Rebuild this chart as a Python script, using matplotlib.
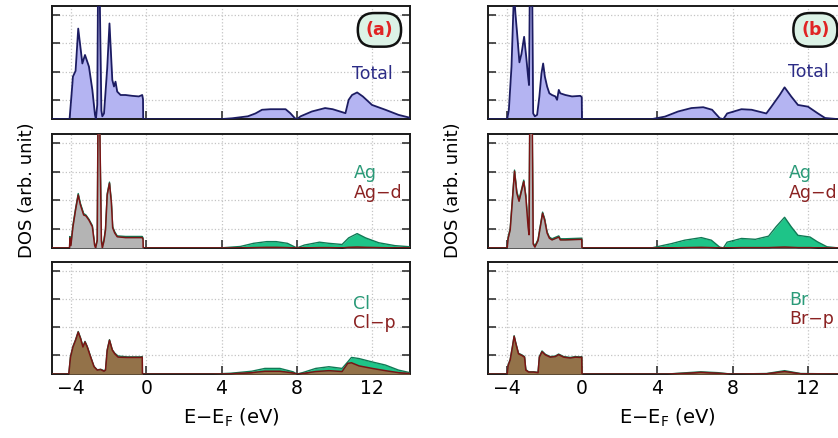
import matplotlib.pyplot as plt

# ---------------------------------------------------------
# Data (DOS in tick-spacing units, 0 = axis bottom)
# ---------------------------------------------------------

# (a) Total DOS
tot_a_x = [-5.0, -4.07, -3.96, -3.89, -3.75, -3.61, -3.39, -3.25, -3.04, -2.86, -2.72, -2.67,
           -2.60, -2.56, -2.47, -2.38, -2.33, -2.24, -2.07, -1.95, -1.80, -1.71, -1.63, -1.54,
           -1.36, -1.10, -0.74, -0.39, -0.21, -0.17, -0.16,
           3.94, 4.56, 5.4, 5.8, 6.15, 6.6, 7.4, 7.65, 7.9, 8.0,
           8.2, 8.8, 9.5, 9.9, 10.58, 10.75, 10.93, 11.2, 11.5, 11.99, 12.7, 13.4, 14.0]
tot_a_y = [0.0, 0.0, 0.9, 1.5, 1.7, 3.19, 1.96, 2.26, 1.85, 1.03, 0.15, 0.0,
           0.5, 4.5, 4.5, 0.3, 0.1, 0.2, 1.8, 3.37, 1.38, 1.15, 1.32, 0.97,
           0.85, 0.85, 0.82, 0.8, 0.85, 0.7, 0.0,
           0.0, 0.03, 0.1, 0.2, 0.33, 0.35, 0.35, 0.21, 0.03, 0.0,
           0.1, 0.27, 0.39, 0.35, 0.21, 0.68, 0.85, 0.94, 0.8, 0.5, 0.33, 0.15, 0.05]

# (a) Ag total and Ag-d
ag_a_x = [-5.0, -4.07, -4.05, -4.0, -3.89, -3.75, -3.61, -3.50, -3.32, -3.20, -3.04, -2.86, -2.74, -2.69,
          -2.60, -2.56, -2.47, -2.38, -2.33, -2.24, -2.16, -2.07, -1.95, -1.85, -1.78, -1.67, -1.54,
          -1.10, -0.21, -0.17, -0.16,
          3.94, 5.0, 5.7, 6.4, 6.9, 7.5, 7.9, 8.0,
          8.4, 9.2, 9.7, 10.4, 10.75, 11.2, 11.65, 12.35, 13.2, 14.0]
ag_a_y = [0.0, 0.0, 0.4, 0.1, 0.80, 1.38, 1.90, 1.57, 1.20, 1.15, 1.00, 0.78, 0.12, 0.0,
          0.3, 4.5, 4.5, 0.3, 0.02, 0.3, 0.68, 1.90, 2.30, 1.62, 0.74, 0.56, 0.42,
          0.40, 0.40, 0.35, 0.0,
          0.0, 0.05, 0.16, 0.22, 0.22, 0.16, 0.03, 0.0,
          0.1, 0.2, 0.16, 0.12, 0.35, 0.50, 0.35, 0.18, 0.08, 0.04]
agd_a_y = [0.0, 0.0, 0.35, 0.08, 0.74, 1.33, 1.85, 1.52, 1.15, 1.12, 0.97, 0.74, 0.10, 0.0,
           0.25, 4.5, 4.5, 0.25, 0.0, 0.25, 0.63, 1.85, 2.26, 1.58, 0.70, 0.52, 0.39,
           0.36, 0.36, 0.30, 0.0,
           0.0, 0.0, 0.01, 0.02, 0.02, 0.01, 0.0, 0.0,
           0.0, 0.01, 0.01, 0.0, 0.02, 0.03, 0.02, 0.01, 0.0, 0.0]

# (a) Cl total and Cl-p
cl_a_x = [-5.0, -4.11, -4.02, -3.89, -3.75, -3.61, -3.48, -3.36, -3.25, -3.13, -2.95, -2.77,
          -2.60, -2.42, -2.24, -2.16, -2.07, -1.95, -1.80, -1.67, -1.49, -1.0, -0.6, -0.30, -0.21, -0.20,
          3.5, 4.5, 5.6, 6.3, 7.1, 7.8, 8.0,
          8.3, 9.0, 9.7, 10.4, 10.7, 10.9, 11.3, 12.0, 12.7, 13.4, 14.0]
cl_a_y = [0.0, 0.0, 0.62, 0.98, 1.22, 1.51, 1.27, 0.98, 1.16, 0.98, 0.62, 0.27,
          0.15, 0.17, 0.12, 0.15, 0.86, 1.22, 0.86, 0.74, 0.64, 0.61, 0.61, 0.61, 0.62, 0.0,
          0.0, 0.03, 0.10, 0.20, 0.20, 0.08, 0.0,
          0.05, 0.2, 0.26, 0.20, 0.43, 0.59, 0.55, 0.43, 0.32, 0.14, 0.05]
clp_a_y = [0.0, 0.0, 0.60, 0.96, 1.20, 1.49, 1.25, 0.96, 1.14, 0.96, 0.60, 0.26,
           0.14, 0.16, 0.10, 0.14, 0.84, 1.20, 0.85, 0.72, 0.60, 0.59, 0.59, 0.59, 0.60, 0.0,
           0.0, 0.01, 0.05, 0.10, 0.10, 0.04, 0.0,
           0.02, 0.09, 0.12, 0.09, 0.38, 0.40, 0.29, 0.20, 0.12, 0.05, 0.02]

# (b) Total DOS
tot_b_x = [-5.0, -3.98, -3.89, -3.75, -3.62, -3.54, -3.45, -3.33, -3.22, -3.08, -2.97, -2.87,
           -2.82, -2.78, -2.65, -2.60, -2.51, -2.39, -2.27, -2.16, -2.07, -1.98, -1.86, -1.74,
           -1.60, -1.42, -1.33, -1.24, -1.16, -0.89, -0.54, -0.10, -0.02, -0.01,
           3.69, 4.4, 5.1, 5.8, 6.43, 6.9, 7.31, 7.5,
           7.7, 8.46, 9.0, 9.78, 10.05, 10.49, 10.75, 11.1, 11.46, 11.99, 12.5, 12.9, 13.6, 14.0]
tot_b_y = [0.0, 0.0, 0.33, 1.85, 4.5, 3.7, 3.0, 2.0, 2.3, 2.9, 2.2, 1.5,
           1.2, 4.5, 4.5, 0.2, 0.1, 0.15, 0.80, 1.61, 1.96, 1.50, 1.15, 0.91,
           0.85, 0.80, 0.68, 1.03, 0.91, 0.85, 0.80, 0.82, 0.78, 0.0,
           0.0, 0.09, 0.27, 0.39, 0.42, 0.33, 0.03, 0.0,
           0.2, 0.35, 0.33, 0.2, 0.44, 0.85, 1.12, 0.80, 0.50, 0.44, 0.21, 0.04, 0.0, 0.0]

# (b) Ag total and Ag-d
ag_b_x = [-5.0, -3.98, -3.93, -3.82, -3.70, -3.59, -3.47, -3.35, -3.20, -3.10, -2.99, -2.87,
          -2.82, -2.78, -2.65, -2.60, -2.51, -2.34, -2.22, -2.10, -1.99, -1.86, -1.74, -1.60,
          -1.24, -1.16, -0.89, -0.02, -0.01,
          3.69, 4.75, 5.45, 6.33, 6.86, 7.3, 7.5,
          7.7, 8.46, 9.2, 9.9, 10.3, 10.75, 11.1, 11.46, 12.1, 12.5, 13.0, 13.6, 14.0]
ag_b_y = [0.0, 0.0, 0.38, 0.68, 1.74, 2.72, 1.98, 1.69, 2.10, 2.37, 1.84, 0.78,
          0.5, 4.5, 4.5, 0.18, 0.06, 0.30, 0.78, 1.25, 1.02, 0.56, 0.38, 0.32,
          0.42, 0.32, 0.32, 0.34, 0.0,
          0.0, 0.15, 0.27, 0.36, 0.27, 0.03, 0.0,
          0.2, 0.33, 0.30, 0.41, 0.74, 1.07, 0.74, 0.44, 0.38, 0.21, 0.04, 0.0, 0.0]
agd_b_y = [0.0, 0.0, 0.33, 0.63, 1.68, 2.68, 1.92, 1.63, 2.04, 2.32, 1.78, 0.74,
           0.46, 4.5, 4.5, 0.14, 0.03, 0.26, 0.74, 1.21, 0.97, 0.52, 0.34, 0.28,
           0.38, 0.28, 0.28, 0.30, 0.0,
           0.0, 0.0, 0.01, 0.02, 0.01, 0.0, 0.0,
           0.0, 0.01, 0.01, 0.01, 0.02, 0.03, 0.02, 0.01, 0.01, 0.0, 0.0, 0.0, 0.0]

# (b) Br total and Br-p
br_b_x = [-5.0, -3.98, -3.93, -3.82, -3.70, -3.61, -3.52, -3.38, -3.20, -3.06, -2.99, -2.84,
          -2.57, -2.34, -2.27, -2.13, -1.95, -1.69, -1.42, -1.25, -0.98, -0.63, -0.36, -0.10, -0.02, -0.01,
          4.5, 5.6, 6.3, 7.2, 7.9, 9.8, 10.75, 11.6, 14.0]
br_b_y = [0.0, 0.0, 0.32, 0.52, 0.98, 1.36, 1.10, 0.74, 0.68, 0.62, 0.16, 0.08,
          0.08, 0.06, 0.62, 0.82, 0.70, 0.62, 0.64, 0.71, 0.62, 0.59, 0.62, 0.61, 0.62, 0.0,
          0.0, 0.05, 0.08, 0.05, 0.0, 0.02, 0.12, 0.02, 0.0]
brp_b_y = [0.0, 0.0, 0.30, 0.50, 0.96, 1.34, 1.08, 0.72, 0.66, 0.60, 0.14, 0.07,
           0.07, 0.05, 0.60, 0.79, 0.68, 0.60, 0.62, 0.69, 0.60, 0.57, 0.60, 0.59, 0.60, 0.0,
           0.0, 0.03, 0.06, 0.03, 0.0, 0.01, 0.09, 0.01, 0.0]

x_ticks = [-4, 0, 4, 8, 12]
y_ticks = [0.67, 1.67, 2.67, 3.67]

# Colors
c_tot_fill = '#b4b4f2'
c_tot_line = '#1c1c62'
c_green = '#1ec488'
c_green_line = '#0f7a55'
c_gray = '#b4b4b4'
c_red_line = '#7a1414'
c_brown = '#937249'
c_lab_green = '#2a9a78'
c_lab_red = '#8b2222'
c_lab_navy = '#2c2c86'

fig = plt.figure(figsize=(8.38, 4.38), dpi=100)

col_left = [0.0621, 0.5823]
col_w = 0.427
row_pos = [(0.728, 0.258), (0.434, 0.260), (0.146, 0.256)]


def style_axis(ax, show_xlabels):
    ax.set_xlim(-5, 14)
    ax.set_ylim(0, 3.98)
    ax.set_xticks(x_ticks)
    ax.set_yticks(y_ticks)
    ax.set_yticklabels([])
    ax.grid(True, color='#c4c4c4', linestyle=':', linewidth=0.9)
    ax.set_axisbelow(True)
    ax.tick_params(axis='both', direction='in', length=6, width=1.2, color='#333333',
                   left=True, right=True, top=False, bottom=True, labelsize=13.5)
    for s in ax.spines.values():
        s.set_linewidth(1.4)
        s.set_color('#1a1a1a')
    if show_xlabels:
        ax.set_xticklabels(['\u22124', '0', '4', '8', '12'])
        ax.set_xlabel('E\u2212E$_\\mathregular{F}$ (eV)', fontsize=14, labelpad=6)
    else:
        ax.set_xticklabels([])


def panel_tag(ax, text):
    ax.text(0.915, 0.79, text, transform=ax.transAxes, ha='center', va='center',
            fontsize=12.5, fontweight='bold', color='#e02424',
            bbox=dict(boxstyle='round,pad=0.45,rounding_size=0.95', fc='#dcf2e6',
                      ec='#111111', lw=1.8))


sets = [
    (tot_a_x, tot_a_y, ag_a_x, ag_a_y, agd_a_y, cl_a_x, cl_a_y, clp_a_y,
     'Cl', 'Cl\u2212p', 2.32, 1.62, 1.40, '(a)'),
    (tot_b_x, tot_b_y, ag_b_x, ag_b_y, agd_b_y, br_b_x, br_b_y, brp_b_y,
     'Br', 'Br\u2212p', 2.45, 1.77, 1.47, '(b)'),
]

for col, (tx, ty, ax_, ay, ady, hx, hy, hpy, hname, hpname, hy1, hy2, toty, tag) in enumerate(sets):
    left = col_left[col]
    axes = [fig.add_axes([left, b, col_w, h]) for b, h in row_pos]

    # Total
    a = axes[0]
    a.fill_between(tx, 0, ty, color=c_tot_fill, lw=0, zorder=2)
    a.plot(tx, ty, color=c_tot_line, lw=1.3, zorder=3)
    a.text(13.1, toty, 'Total', ha='right', va='baseline', fontsize=12.5, color=c_lab_navy, zorder=4)
    panel_tag(a, tag)

    # Ag and Ag-d
    a = axes[1]
    a.fill_between(ax_, 0, ay, color=c_green, lw=0, zorder=2)
    a.plot(ax_, ay, color=c_green_line, lw=1.0, zorder=3)
    a.fill_between(ax_, 0, ady, color=c_gray, lw=0, zorder=4)
    a.plot(ax_, ady, color=c_red_line, lw=1.1, zorder=5)
    a.text(11.0, 2.45, 'Ag', ha='left', va='baseline', fontsize=12.5, color=c_lab_green, zorder=6)
    a.text(11.0, 1.74, 'Ag\u2212d', ha='left', va='baseline', fontsize=12.5, color=c_lab_red, zorder=6)

    # Halogen and halogen-p
    a = axes[2]
    a.fill_between(hx, 0, hy, color=c_green, lw=0, zorder=2)
    a.plot(hx, hy, color=c_green_line, lw=1.0, zorder=3)
    a.fill_between(hx, 0, hpy, color=c_brown, lw=0, zorder=4)
    a.plot(hx, hpy, color=c_red_line, lw=1.1, zorder=5)
    a.text(11.0, hy1, hname, ha='left', va='baseline', fontsize=12.5, color=c_lab_green, zorder=6)
    a.text(11.0, hy2, hpname, ha='left', va='baseline', fontsize=12.5, color=c_lab_red, zorder=6)

    for i, a in enumerate(axes):
        style_axis(a, i == 2)

    fig.text(left - 0.030 if col == 0 else left - 0.042, 0.565, 'DOS (arb. unit)',
             rotation=90, ha='center', va='center', fontsize=13)

fig.savefig('out.png', dpi=100)
